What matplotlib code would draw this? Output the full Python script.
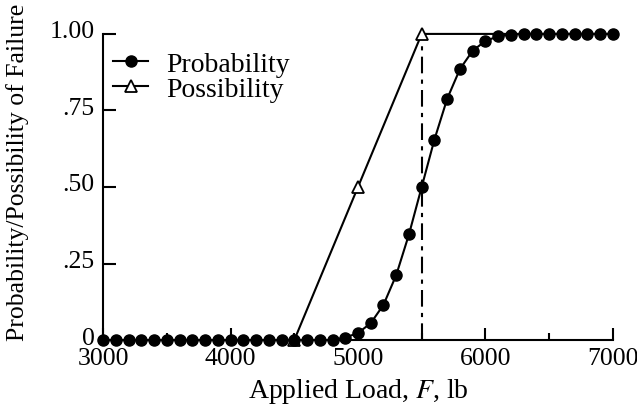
import numpy as np
import matplotlib
matplotlib.use("Agg")
import matplotlib.pyplot as plt
import matplotlib.transforms as mtransforms
from matplotlib.ticker import MultipleLocator, FixedLocator

plt.rcParams["font.family"] = ["Liberation Serif", "DejaVu Serif"]
plt.rcParams["mathtext.fontset"] = "stix"

# ── Data ──────────────────────────────────────────────────────────────
load = list(range(3000, 7001, 100))
prob = ([0.0] * 19 +
        [0.008, 0.023, 0.055, 0.115, 0.212, 0.345, 0.50, 0.655, 0.788,
         0.885, 0.945, 0.977, 0.992, 0.998] +
        [1.0] * 8)

poss_x = [3000, 4500, 5000, 5500, 7000]
poss_y = [0.0, 0.0, 0.5, 1.0, 1.0]
poss_marked = [1, 2, 3]

mean_load = 5500
yticks = [0, 0.25, 0.5, 0.75, 1.0]
ylabels = ["0", ".25", ".50", ".75", "1.00"]

# ── Figure ────────────────────────────────────────────────────────────
fig = plt.figure(figsize=(6.37, 4.06), dpi=100)
ax = fig.add_axes([0.162, 0.160, 0.800, 0.754])

ax.plot([mean_load, mean_load], [0, 1], color="black", lw=1.5,
        linestyle=(0, (8, 3, 2, 3)), clip_on=False)
ax.plot(poss_x, poss_y, color="black", lw=1.5, marker="^", ms=9,
        mfc="white", mec="black", mew=1.3, markevery=poss_marked,
        clip_on=False, label="Possibility", zorder=3)
ax.plot(load, prob, color="black", lw=1.5, marker="o", ms=8,
        clip_on=False, label="Probability", zorder=4)

ax.set_xlim(3000, 7000)
ax.set_ylim(0, 1)
ax.xaxis.set_major_locator(MultipleLocator(1000))
ax.xaxis.set_minor_locator(FixedLocator([3500, 4500, 5500, 6500]))
ax.set_yticks(yticks)
ax.set_yticklabels(ylabels)

for s in ("top", "right"):
    ax.spines[s].set_visible(False)
for s in ("left", "bottom"):
    ax.spines[s].set_linewidth(1.5)

ax.tick_params(which="major", direction="in", length=9, width=1.5,
               labelsize=18.5)
ax.tick_params(axis="x", pad=5)
ax.tick_params(axis="y", pad=6)
ax.tick_params(which="minor", direction="in", length=5, width=1.5)

# y labels sit a little above their ticks in the original
lift = mtransforms.ScaledTranslation(0, 5 / 100, fig.dpi_scale_trans)
for lab in ax.get_yticklabels():
    lab.set_transform(lab.get_transform() + lift)

ax.set_xlabel("Applied Load, $F$, lb", fontsize=20, labelpad=5)
ax.set_ylabel("Probability/Possibility of Failure", fontsize=18.5)
ax.yaxis.set_label_coords(-0.145, 0.55)

h, l = ax.get_legend_handles_labels()
ax.legend(h[::-1], l[::-1], loc="upper left", frameon=False, fontsize=20,
          handlelength=1.26, handletextpad=0.65, labelspacing=0.0,
          borderpad=0, borderaxespad=0, bbox_to_anchor=(0.0196, 0.944))

fig.savefig("out.png", dpi=100)
